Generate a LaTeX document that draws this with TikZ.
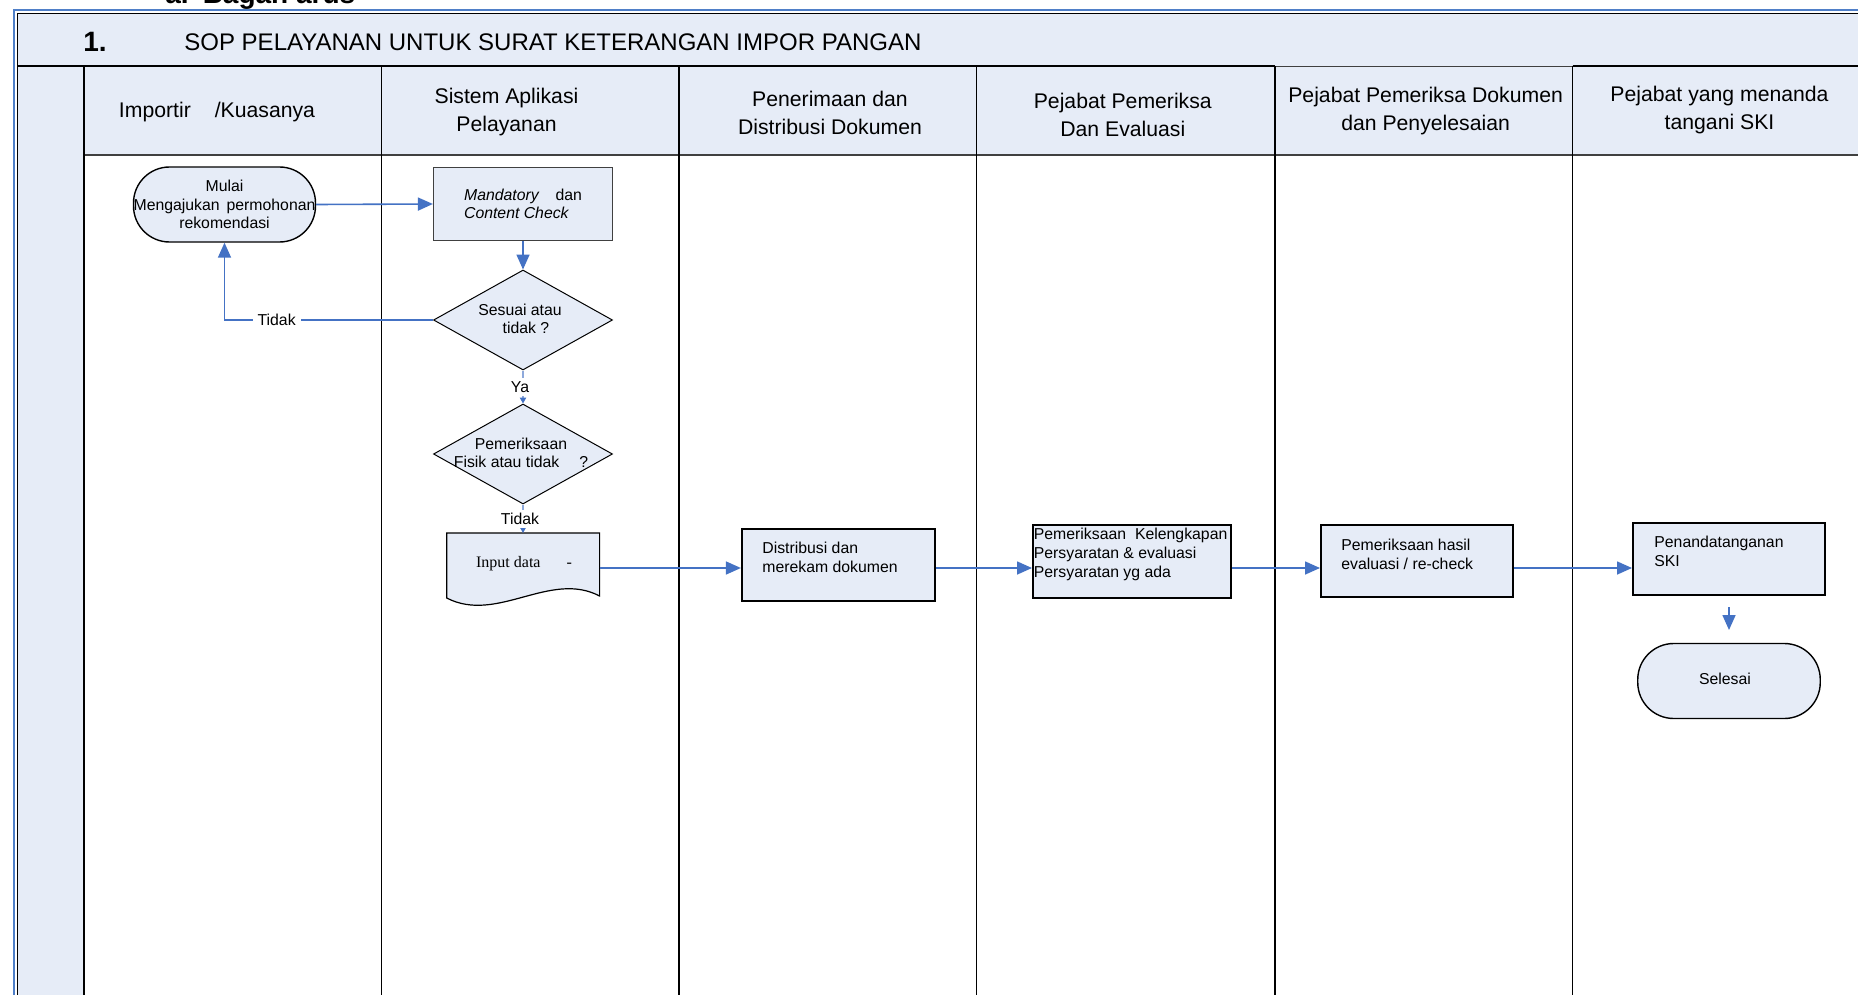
\documentclass[tikz,border=0pt]{standalone}
\usepackage{fontspec}
\setmainfont{Liberation Sans}
\newfontfamily\timesf{Liberation Serif}
\usetikzlibrary{shapes.geometric,arrows.meta}
\definecolor{lb}{HTML}{E6ECF7}
\definecolor{ab}{HTML}{4472C4}
\definecolor{fb}{HTML}{4F7FC8}
\definecolor{lab}{HTML}{8EA9DB}
\definecolor{gb}{HTML}{404040}
\begin{document}
\begin{tikzpicture}[x=0.5pt,y=-0.5pt,
  hd/.style={font=\fontsize{10.6}{14}\selectfont, align=center, inner sep=0},
  lbl/.style={font=\fontsize{7.9}{9.4}\selectfont, inner sep=0, align=left, text=black},
  term/.style={rectangle, rounded corners=18pt, draw, line width=0.7pt, fill=lb, inner sep=0,
    font=\fontsize{7.9}{9.2}\selectfont, align=center, minimum width=91pt, minimum height=37.5pt},
  pbox/.style={rectangle, draw, line width=1pt, fill=lb, inner sep=0},
  dia/.style={diamond, draw, line width=0.5pt, fill=lb, inner sep=0, aspect=1.79,
    minimum width=89.5pt, minimum height=50pt},
  diat/.style={font=\fontsize{7.9}{9.2}\selectfont, align=center, inner sep=0},
  arr/.style={ab, line width=0.8pt, -{Triangle[length=7.5pt,width=6.5pt]}},
  sarr/.style={lab, line width=0.6pt, -{Triangle[length=3pt,width=3.2pt,color=ab]}},
  gridln/.style={black, line width=0.8pt}
]
\useasboundingbox (0,0) rectangle (1858,995);
\clip (0,0) rectangle (1858,995);
\fill[white] (0,0) rectangle (1858,995);
% shaded bands
\fill[lb] (17,13) rectangle (1858,66);
\fill[lb] (17,66) rectangle (84,995);
\fill[lb] (84,66) rectangle (1858,155);
% frame
\draw[fb, line width=1pt] (13.5,995) -- (13.5,10.5) -- (1858,10.5);
\draw[black, line width=0.5pt] (17,995) -- (17,13.5) -- (1858,13.5);
\draw[gridln, line width=1pt] (17,66) -- (1275,66);
\draw[gb, line width=0.6pt] (1275,66.5) -- (1572.5,66.5);
\draw[gridln, line width=1pt] (1572.5,65.7) -- (1858,65.7);
\draw[gb, line width=0.7pt] (84,155) -- (1858,155);
\foreach \x in {84,381.6,679,976.4,1275,1572.5} \draw[gridln] (\x,66) -- (\x,995);

% top texts
\node[anchor=base west, inner sep=0, font=\bfseries\fontsize{14}{16}\selectfont] (sub) at (165,4) {a.\hspace{7pt}Bagan arus};
\node[anchor=west, inner sep=0, font=\bfseries\fontsize{14}{16}\selectfont] (num) at (83,42) {1.};
\node[anchor=west, inner sep=0, font=\fontsize{12}{14}\selectfont] (title) at (184,42) {SOP PELAYANAN UNTUK SURAT KETERANGAN IMPOR PANGAN};

% headers
\node[hd] (h1) at (217,112.5) {Importir\hspace{12pt}/Kuasanya};
\node[hd] (h2) at (506.5,112.5) {Sistem Aplikasi\\Pelayanan};
\node[hd] (h3) at (830,112.5) {Penerimaan dan\\Distribusi Dokumen};
\node[hd] (h4) at (1122.8,115) {Pejabat Pemeriksa\\Dan Evaluasi};
\node[hd] (h5) at (1425.6,111.5) {Pejabat Pemeriksa Dokumen\\dan Penyelesaian};
\node[hd] (h6) at (1719.5,110.5) {Pejabat yang menanda\\tangani SKI};

% flow nodes
\node[term] (mulai) at (224.5,204.5) {Mulai\\Mengajukan\hspace{3.5pt}permohonan\\rekomendasi};
\node[rectangle, draw=gb, line width=0.6pt, fill=lb, inner sep=0, minimum width=89.5pt, minimum height=36.75pt,
  font=\fontsize{7.9}{9.2}\selectfont, align=left] (mand) at (523,204) {\textit{Mandatory}\hspace{8pt}dan\\\textit{Content Check}};
\node[dia] (d1) at (523,320) {};
\node[diat] (d1t) at (520,319) {Sesuai atau\\\hspace{6pt}tidak ?};
\node[dia] (d2) at (523,454) {};
\node[diat] (d2t) at (521,453) {Pemeriksaan\\Fisik atau tidak\hspace{10pt}?};

\draw[line width=0.6pt, fill=lb] (446.7,533) -- (599.6,533) -- (599.6,596)
  .. controls (550,570) and (497,624) .. (446.7,598) -- cycle;
\node[inner sep=0, font=\timesf\fontsize{8}{9.5}\selectfont] (doc) at (524,564) {Input data\hspace{13pt}-};
\coordinate (docT) at (523,533);
\coordinate (docE) at (599.6,568);

\node[pbox, minimum width=96.5pt, minimum height=36pt] (dist) at (838.4,564.6) {};
\node[lbl, anchor=west] (distt) at (762,557.5) {Distribusi dan\\merekam dokumen};
\node[pbox, minimum width=99pt, minimum height=36.75pt] (b9) at (1132,561.7) {};
\node[lbl, anchor=west] (b9t) at (1033.5,554.6) {Pemeriksaan\hspace{4.5pt}Kelengkapan\\Persyaratan \& evaluasi\\Persyaratan yg ada};
\node[pbox, minimum width=96pt, minimum height=36pt] (b10) at (1417,561) {};
\node[lbl, anchor=west] (b10t) at (1341,554) {Pemeriksaan hasil\\evaluasi / re-check};
\node[pbox, minimum width=96pt, minimum height=36.25pt] (b11) at (1729,558.8) {};
\node[lbl, anchor=west] (b11t) at (1654,551.6) {Penandatanganan\\SKI};
\node[term, minimum width=91.25pt] (sel) at (1729,681) {};
\node[diat] (selt) at (1725,679) {Selesai};
\coordinate (skiA) at (1729,607);
\coordinate (skiB) at (1729,630);

% connectors
\draw[arr] (mulai.east) -- (mand.west);
\draw[arr] (mand.south) -- (d1.north);
\draw[arr] (d1.west) -- node[lbl, fill=white, pos=0.75, inner xsep=2.5pt, inner ysep=1pt] (tidak1) {Tidak} (d1.west -| mulai.south) -- (mulai.south);
\draw[sarr] (d1.south) -- node[lbl, fill=white, inner ysep=1.5pt, xshift=-1.5pt] (ya) {Ya} (d2.north);
\draw[sarr] (d2.south) -- node[lbl, fill=white, inner ysep=1.5pt, xshift=-1.5pt] (tidak2) {Tidak} (docT);
\draw[arr] (docE) -- (docE -| dist.west);
\draw[arr] (dist.east |- docE) -- (b9.west |- docE);
\draw[arr] (b9.east |- docE) -- (b10.west |- docE);
\draw[arr] (b10.east |- docE) -- (b11.west |- docE);
\draw[arr] (skiA) -- (skiB);
\end{tikzpicture}
\end{document}
